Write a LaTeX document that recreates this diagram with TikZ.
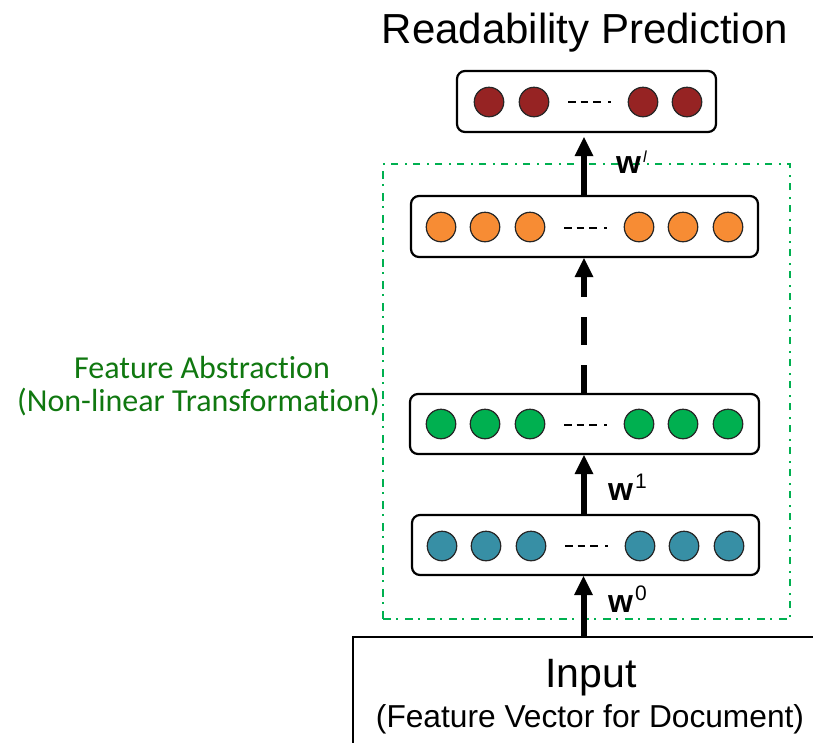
\documentclass[tikz,border=0pt]{standalone}
\usepackage{fontspec}
\setmainfont{Liberation Sans}
\newfontfamily\calfont[Ligatures={NoCommon}]{Carlito}
\usetikzlibrary{arrows.meta}

\definecolor{unitred}{RGB}{150,35,35}
\definecolor{unitorange}{RGB}{247,140,52}
\definecolor{unitgreen}{RGB}{0,176,80}
\definecolor{unitteal}{RGB}{55,143,165}
\definecolor{framegreen}{RGB}{0,176,80}
\definecolor{notegreen}{RGB}{16,120,16}

% bold weight symbol with a raised superscript
\newcommand{\wsym}[2][21]{{\fontsize{32}{32}\selectfont\bfseries w}\kern2pt\raisebox{12pt}{\fontsize{#1}{#1}\selectfont #2}}

\begin{document}
\begin{tikzpicture}[x=1pt,y=-1pt,
  layer/.style={draw, line width=2.2pt, rounded corners=8pt, inner sep=0pt, fill=white},
  unit/.style={circle, draw=black!85, line width=1.2pt, minimum size=29.5pt, inner sep=0pt},
  ellip/.style={line width=1.3pt, dash pattern=on 7.5pt off 5pt on 7.5pt off 5pt on 7.5pt off 7.5pt on 3.3pt off 20pt},
  uparrow/.style={line width=6pt, -{Triangle[width=19pt,length=19pt,line width=0pt]}},
  wlabel/.style={anchor=base west, inner sep=0pt},
]
\useasboundingbox (0,0) rectangle (813,742);

% dash-dot frame around the hidden layers
\node[draw=framegreen, line width=2pt, dash pattern=on 7.5pt off 5.5pt on 2pt off 7pt,
      minimum width=407pt, minimum height=455pt, inner sep=0pt, anchor=north west]
      (frame) at (382,163) {};

% input block, running off the page
\begin{scope}
  \clip (0,0) rectangle (813,742);
  \node[draw, line width=2.2pt, anchor=north west, minimum width=480pt,
        minimum height=150pt, inner sep=0pt] (input) at (352,636) {};
\end{scope}
\node[anchor=base, inner sep=0pt, font=\fontsize{41}{41}\selectfont] (intitle) at (591,687) {Input};
\node[anchor=base, inner sep=0pt, font=\fontsize{31.7}{31.7}\selectfont] (insub) at (590,727) {(Feature Vector for Document)};

% layers
\node[layer, minimum width=259pt, minimum height=61pt] (out) at (586.5,101.5) {};
\node[layer, minimum width=347pt, minimum height=61pt] (hl) at (584.5,226.5) {};
\node[layer, minimum width=349pt, minimum height=60pt] (h2) at (584.5,424) {};
\node[layer, minimum width=347pt, minimum height=60pt] (h1) at (585.5,545) {};

% units
\foreach \x [count=\i] in {489,534,643,687}
  \node[unit, fill=unitred] (r\i) at (\x,102) {};
\foreach \x [count=\i] in {441,485,530,639,683,728}
  \node[unit, fill=unitorange] (o\i) at (\x,227) {};
\foreach \x [count=\i] in {441,485,530,639,683,728}
  \node[unit, fill=unitgreen] (g\i) at (\x,424) {};
\foreach \x [count=\i] in {442,486,531,640,684,729}
  \node[unit, fill=unitteal] (b\i) at (\x,546) {};

% ellipses between units
\draw[ellip] (568,102) -- (612,102);
\draw[ellip] (564,228) -- (608,228);
\draw[ellip] (564,425) -- (608,425);
\draw[ellip] (565,546) -- (609,546);

% connections
\draw[uparrow] (input.north -| 583.5,0) -- (h1.south -| 583.5,0);
\draw[uparrow] (h1.north -| 584,0) -- (h2.south -| 584,0);
\draw[uparrow, dash pattern=on 28pt off 20pt] (h2.north -| 584,0) -- (hl.south -| 584,0);
\draw[uparrow, shorten >=4pt] (hl.north -| 584,0) -- (out.south -| 584,0);

% weight labels
\node[wlabel] (w0) at (608,612) {\wsym{0}};
\node[wlabel] (w1) at (608,500) {\wsym{1}};
\node[wlabel] (wl) at (616,173) {{\fontsize{32}{32}\selectfont\bfseries w}\kern2pt\raisebox{11pt}{\fontsize{16}{16}\selectfont\itshape l}};

% titles
\node[anchor=base, inner sep=0pt, font=\fontsize{42}{42}\selectfont] (title) at (585,43) {Readability Prediction};
\node[anchor=base, inner sep=0pt, text=notegreen, font=\calfont\fontsize{32}{32}\selectfont] (note1) at (202,378) {Feature Abstraction};
\node[anchor=base, inner sep=0pt, text=notegreen, font=\calfont\fontsize{32}{32}\selectfont] (note2) at (198.5,411) {(Non-linear Transformation)};
\end{tikzpicture}
\end{document}
